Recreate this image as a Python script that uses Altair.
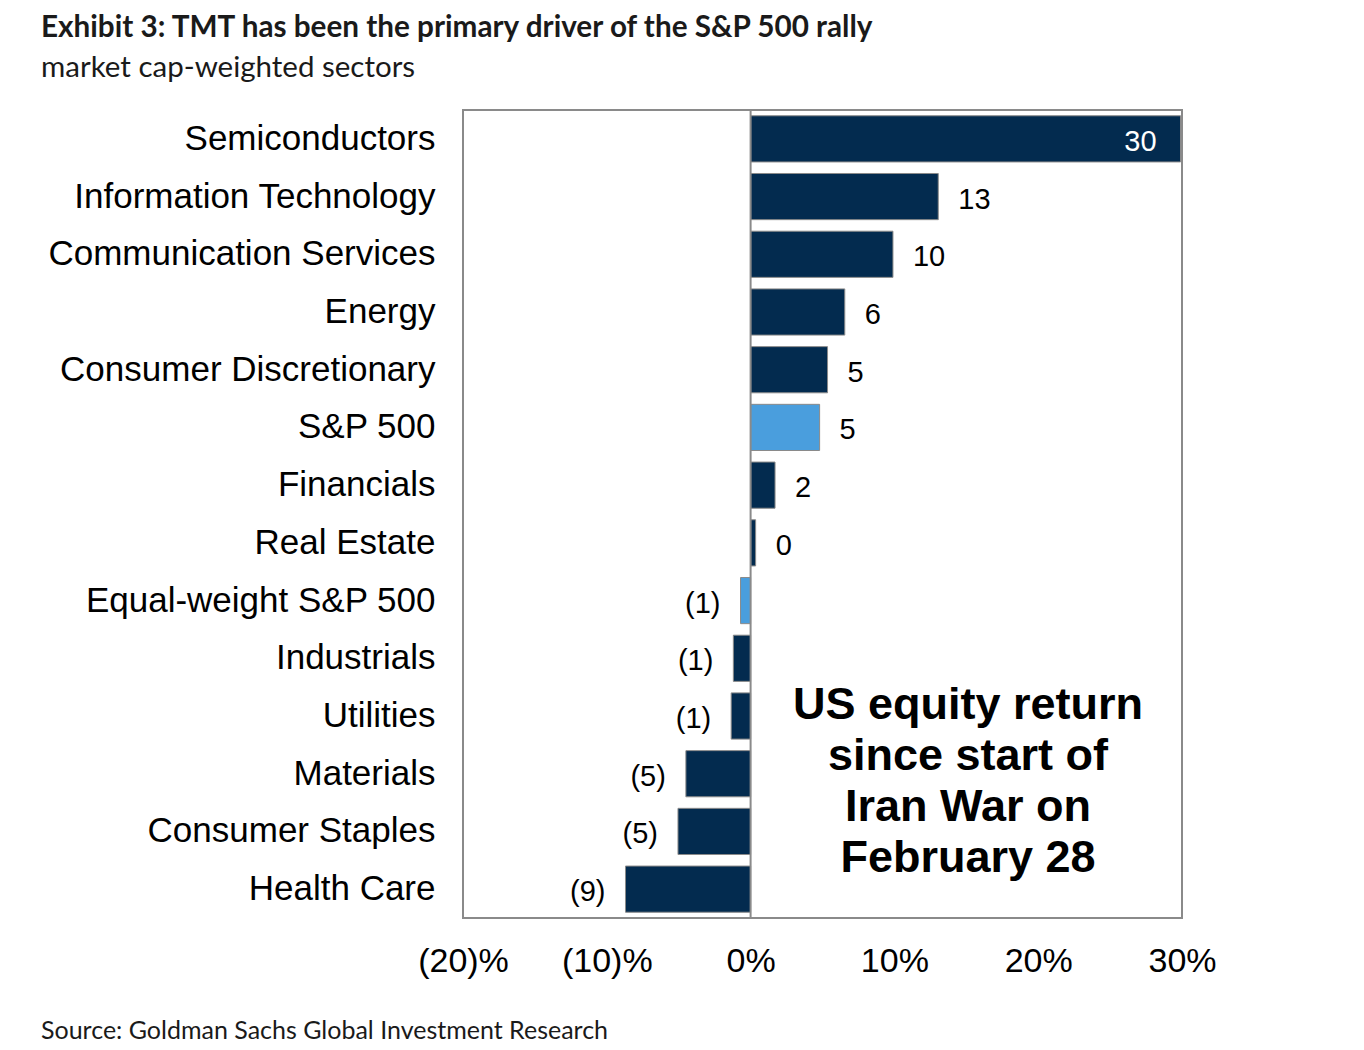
import altair as alt
import pandas as pd

sectors = ["Semiconductors", "Information Technology", "Communication Services", "Energy",
           "Consumer Discretionary", "S&P 500", "Financials", "Real Estate",
           "Equal-weight S&P 500", "Industrials", "Utilities", "Materials",
           "Consumer Staples", "Health Care"]
values = [29.9, 13.05, 9.9, 6.55, 5.35, 4.8, 1.7, 0.35, -0.7, -1.2, -1.35, -4.5, -5.05, -8.7]
labels = ["30", "13", "10", "6", "5", "5", "2", "0", "(1)", "(1)", "(1)", "(5)", "(5)", "(9)"]
kinds = ["sector", "sector", "sector", "sector", "sector", "index", "sector", "sector",
         "index", "sector", "sector", "sector", "sector", "sector"]
x_ticks = [-20, -10, 0, 10, 20, 30]

title_text = "Exhibit 3: TMT has been the primary driver of the S&P 500 rally"
subtitle_text = "market cap-weighted sectors"
source_text = "Source: Goldman Sachs Global Investment Research"
note_lines = ["US equity return", "since start of", "Iran War on", "February 28"]

df = pd.DataFrame({"sector": sectors, "value": values, "label": labels, "kind": kinds})
df["pos"] = ["inside" if i == 0 else ("out_pos" if v >= 0 else "out_neg")
             for i, v in enumerate(values)]

FONT = "Liberation Sans, Arial, sans-serif"
TFONT = "Lato, Open Sans, sans-serif"
NAVY = "#032B4F"
LIGHT = "#4A9EDD"

x_enc = alt.X("value:Q", scale=alt.Scale(domain=[-20, 30], nice=False, zero=False),
              axis=alt.Axis(values=x_ticks, title=None, grid=False, domain=False, ticks=False,
                            labelFont=FONT, labelFontSize=34, labelColor="#000000",
                            labelPadding=26, labelBaseline="top", labelAlign="center",
                            labelExpr="datum.value < 0 ? '(' + abs(datum.value) + ')%' : datum.value + '%'"))
y_enc = alt.Y("sector:N", sort=sectors,
              scale=alt.Scale(paddingInner=0.2, paddingOuter=0.1),
              axis=alt.Axis(title=None, domain=False, ticks=False, grid=False,
                            labelFont=FONT, labelFontSize=35, labelColor="#000000",
                            labelPadding=28, labelLimit=500))

base = alt.Chart(df)

bars = base.mark_bar(stroke="#8a8a8a", strokeWidth=1).encode(
    x=x_enc, x2=alt.datum(0), y=y_enc,
    color=alt.Color("kind:N", scale=alt.Scale(domain=["sector", "index"], range=[NAVY, LIGHT]),
                    legend=None),
)

zero_rule = alt.Chart(pd.DataFrame({"z": [0]})).mark_rule(color="#8a8a8a", strokeWidth=2).encode(
    x=alt.X("z:Q", scale=alt.Scale(domain=[-20, 30], nice=False, zero=False))
)

lab_pos = base.transform_filter("datum.pos == 'out_pos'").mark_text(
    align="left", baseline="middle", dx=20, dy=3, font=FONT, fontSize=29, color="#000000"
).encode(x="value:Q", y=alt.Y("sector:N", sort=sectors), text="label:N")

lab_neg = base.transform_filter("datum.pos == 'out_neg'").mark_text(
    align="right", baseline="middle", dx=-20, dy=3, font=FONT, fontSize=29, color="#000000"
).encode(x="value:Q", y=alt.Y("sector:N", sort=sectors), text="label:N")

lab_in = base.transform_filter("datum.pos == 'inside'").mark_text(
    align="right", baseline="middle", dx=-24, dy=3, font=FONT, fontSize=29, color="#FFFFFF"
).encode(x="value:Q", y=alt.Y("sector:N", sort=sectors), text="label:N")

dummy = pd.DataFrame({"a": [0]})
note = alt.Chart(dummy).mark_text(
    align="center", baseline="middle", font=FONT, fontSize=45, fontWeight="bold",
    color="#000000", lineHeight=51
).encode(x=alt.value(505), y=alt.value(595), text=alt.value(note_lines))

title = alt.Chart(dummy).mark_text(
    align="left", baseline="middle", font=TFONT, fontSize=29.7,
    fontWeight="bold", color="#1a1a1a"
).encode(x=alt.value(-422), y=alt.value(-82), text=alt.value(title_text))

subtitle = alt.Chart(dummy).mark_text(
    align="left", baseline="middle", font=TFONT, fontSize=29.5,
    color="#1a1a1a"
).encode(x=alt.value(-422), y=alt.value(-42), text=alt.value(subtitle_text))

source = alt.Chart(dummy).mark_text(
    align="left", baseline="middle", font=TFONT, fontSize=25,
    color="#1a1a1a"
).encode(x=alt.value(-422), y=alt.value(921), text=alt.value(source_text))

chart = alt.layer(bars, zero_rule, lab_pos, lab_neg, lab_in, note, title, subtitle, source).properties(
    width=719, height=808,
    autosize=alt.AutoSizeParams(type="none"),
    padding={"left": 455, "top": 102, "right": 150, "bottom": 130},
    background="#FFFFFF",
).configure_view(stroke="#8a8a8a", strokeWidth=2)

chart.save("out.html", embed_options={"renderer": "svg", "actions": False})
